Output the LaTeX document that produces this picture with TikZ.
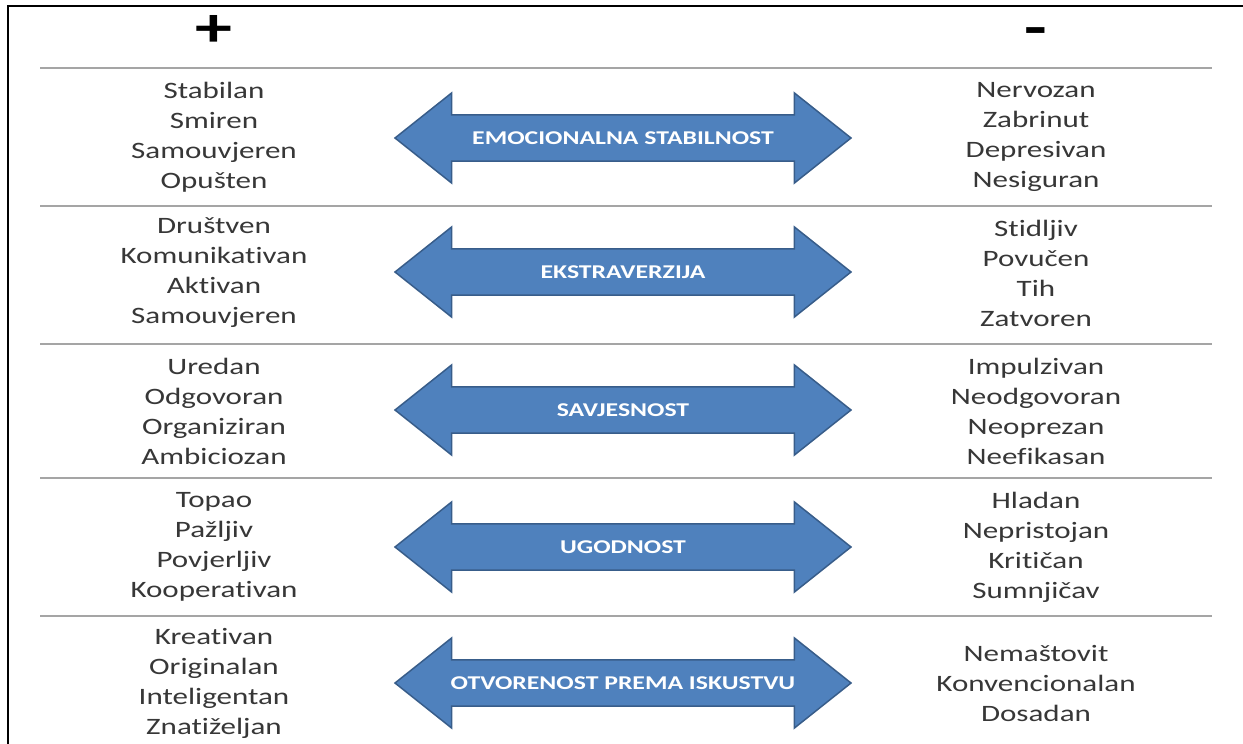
\documentclass[tikz,border=0pt]{standalone}
\usepackage{fontspec}
\setmainfont{Carlito}[FakeStretch=1.32,RawFeature={-liga;-clig;-calt}]
\usetikzlibrary{shapes.arrows}
\definecolor{arrowblue}{RGB}{79,129,189}
\definecolor{arrowedge}{RGB}{56,93,138}
\definecolor{textgray}{RGB}{55,55,55}
\definecolor{rulegray}{RGB}{165,165,165}
\begin{document}
\begin{tikzpicture}[x=1pt,y=-1pt,
	trait/.style={align=center,text=textgray,font=\fontsize{23.5}{30}\selectfont},
	dimension/.style={double arrow,double arrow head extend=22pt,double arrow tip angle=77,minimum height=456pt,minimum width=88pt,inner xsep=0pt,inner ysep=16pt,text height=12.6pt,text depth=0pt,fill=arrowblue,draw=arrowedge,line width=1.5pt,text=white,font=\bfseries\fontsize{19.5}{20}\selectfont},
	separator/.style={rulegray,line width=1.8pt},
	sign/.style={anchor=base,inner sep=0pt,font=\bfseries\fontsize{56}{56}\selectfont}]
	\useasboundingbox (0,0) rectangle (1243,744);
	% Frame
	\draw [line width=2.5pt] (8,744) -- (8,6) -- (1243,6);
	\node [sign] (plus) at (214,46) {+};
	\node [sign] (minus) at (1036,46) {-};
	% Rows
	\draw [separator] (40,68) -- (1212,68);
	\draw [separator] (40,206) -- (1212,206);
	\draw [separator] (40,344) -- (1212,344);
	\draw [separator] (40,478) -- (1212,478);
	\draw [separator] (40,616) -- (1212,616);
	\node [trait] (pos1) at (214,137) {Stabilan\\Smiren\\Samouvjeren\\Opušten};
	\node [dimension] (dim1) at (623,138) {EMOCIONALNA STABILNOST};
	\node [trait] (neg1) at (1036,137) {Nervozan\\Zabrinut\\Depresivan\\Nesiguran};
	\node [trait] (pos2) at (214,273) {Društven\\Komunikativan\\Aktivan\\Samouvjeren};
	\node [dimension] (dim2) at (623,272) {EKSTRAVERZIJA};
	\node [trait] (neg2) at (1036,273) {Stidljiv\\Povučen\\Tih\\Zatvoren};
	\node [trait] (pos3) at (214,411) {Uredan\\Odgovoran\\Organiziran\\Ambiciozan};
	\node [dimension] (dim3) at (623,410) {SAVJESNOST};
	\node [trait] (neg3) at (1036,411) {Impulzivan\\Neodgovoran\\Neoprezan\\Neefikasan};
	\node [trait] (pos4) at (214,547) {Topao\\Pažljiv\\Povjerljiv\\Kooperativan};
	\node [dimension] (dim4) at (623,547) {UGODNOST};
	\node [trait] (neg4) at (1036,547) {Hladan\\Nepristojan\\Kritičan\\Sumnjičav};
	\node [trait] (pos5) at (214,683) {Kreativan\\Originalan\\Inteligentan\\Znatiželjan};
	\node [dimension] (dim5) at (623,683) {OTVORENOST PREMA ISKUSTVU};
	\node [trait] (neg5) at (1036,683) {Nemaštovit\\Konvencionalan\\Dosadan};
\end{tikzpicture}
\end{document}
